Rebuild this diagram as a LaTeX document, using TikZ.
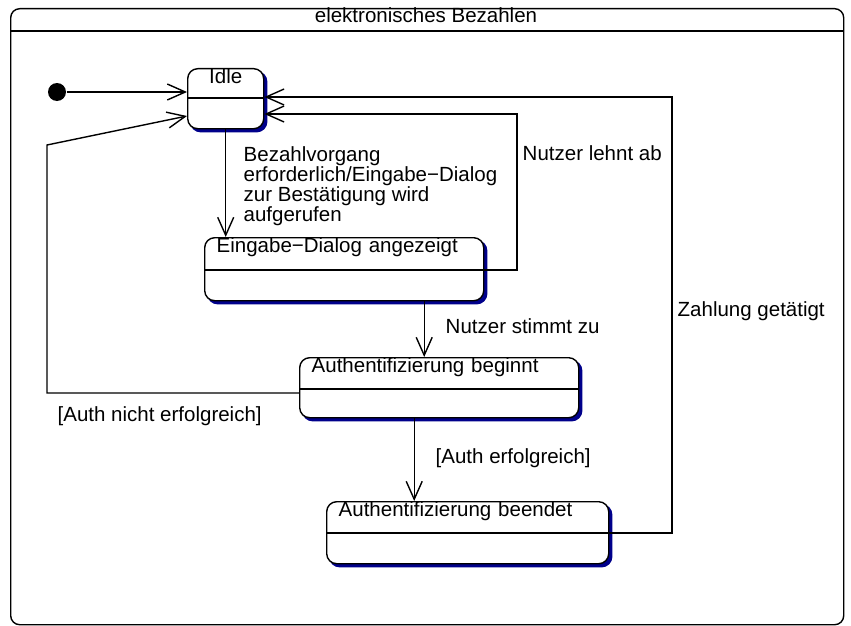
\documentclass[tikz,border=0pt]{standalone}
\usepackage{fontspec}
\setmainfont{Liberation Sans}
\usetikzlibrary{arrows.meta,shadows}
\definecolor{schatten}{RGB}{0,0,139}

\begin{document}
\begin{tikzpicture}[x=1pt,y=-1pt,line width=1.4pt,
        >={Straight Barb[length=18pt,width=16pt,line width=1.4pt]},
        schrift/.style={font=\fontsize{20.5}{18}\selectfont},
        zustand/.style={schrift,draw,fill=white,rounded corners=10pt,anchor=north west,
            inner xsep=12pt,inner ysep=0pt,text height=15pt,align=left,
            copy shadow={shadow xshift=3pt,shadow yshift=-3pt,draw=schatten,fill=schatten}},
        beschr/.style={schrift,inner sep=0pt,anchor=base west,align=left}]
        \useasboundingbox (0,0) rectangle (851,626);
        \node[draw,rounded corners=9pt,anchor=north west,inner sep=0pt,minimum width=833pt,minimum height=616pt] (rahmen) at (10,8) {};
        \node[schrift,inner sep=0pt,anchor=base] (titel) at (426,23) {elektronisches Bezahlen};
        \draw ([yshift=-23pt]rahmen.north west) -- ([yshift=-23pt]rahmen.north east);
        \node[circle,fill,inner sep=0pt,minimum size=18pt] (start) at (57,92) {};
        \node[zustand,text width=52pt,text depth=45pt,align=center] (idle) at (187,68) {Idle};
        \node[zustand,text width=255pt,text depth=48pt] (eingabe) at (204,237) {Eingabe−Dialog angezeigt};
        \node[zustand,text width=255pt,text depth=45pt] (authb) at (299,357) {Authentifizierung beginnt};
        \node[zustand,text width=258pt,text depth=47pt] (authe) at (326,501) {Authentifizierung beendet};
        \draw ([yshift=-30pt]idle.north west) -- ([yshift=-30pt]idle.north east);
        \draw ([yshift=-33pt]eingabe.north west) -- ([yshift=-33pt]eingabe.north east);
        \draw ([yshift=-32pt]authb.north west) -- ([yshift=-32pt]authb.north east);
        \draw ([yshift=-32pt]authe.north west) -- ([yshift=-32pt]authe.north east);
        \coordinate (ab) at (517,114);
        \coordinate (nicht) at (47,145);
        \coordinate (bezahlt) at (672,97);
        \draw[->] (start) -- (start -| idle.west);
        \draw[->] (idle.south) -- (idle.south |- eingabe.north);
        \draw[->] ([yshift=-33pt]eingabe.north east) -| (ab) -- (ab -| idle.east);
        \draw[->] ([xshift=80pt]eingabe.south) -- ([xshift=80pt]eingabe.south |- authb.north);
        \draw[->] ([yshift=-36pt]authb.north west) -| (nicht) -- ([yshift=-48pt]idle.north west);
        \draw[->] ([xshift=-25pt]authb.south) -- ([xshift=-25pt]authb.south |- authe.north);
        \draw[->] ([yshift=-32pt]authe.north east) -| (bezahlt) -- (bezahlt -| idle.east);
        \node[beschr,anchor=north west] (vorgang) at (243,146) {Bezahlvorgang\\erforderlich/Eingabe−Dialog\\zur Bestätigung wird\\aufgerufen};
        \node[beschr] (lehnt) at (522,160) {Nutzer lehnt ab};
        \node[beschr] (stimmt) at (445,333) {Nutzer stimmt zu};
        \node[beschr] (zahlung) at (677,316) {Zahlung getätigt};
        \node[beschr] (fehler) at (57,421) {[Auth nicht erfolgreich]};
        \node[beschr] (erfolg) at (435,463) {[Auth erfolgreich]};
    \end{tikzpicture}
\end{document}
